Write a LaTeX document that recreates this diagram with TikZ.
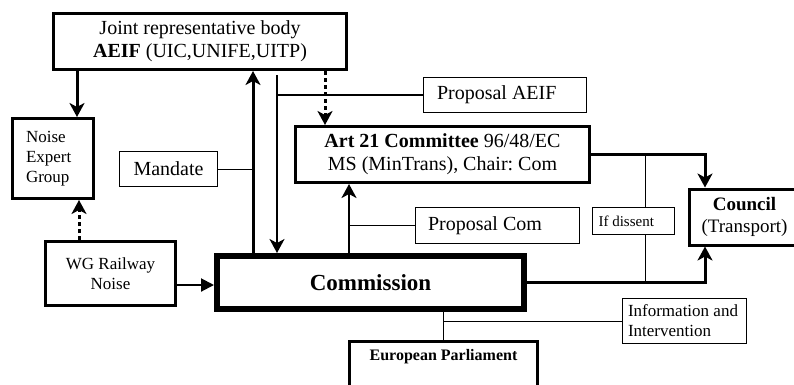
\documentclass[tikz,border=0pt]{standalone}
\usepackage{fontspec}
\setmainfont{Liberation Serif}
\usetikzlibrary{arrows.meta}
\frenchspacing

\begin{document}
\begin{tikzpicture}[x=1pt,y=-1pt]

  \tikzstyle{box}=[draw,rectangle,line width=3pt,inner sep=2pt,align=center,font=\fontsize{20}{23}\selectfont]
  \tikzstyle{bigbox}=[box,line width=6pt,font=\bfseries\fontsize{23}{26}\selectfont]
  \tikzstyle{labbox}=[draw,rectangle,line width=1pt,inner sep=2pt,align=center,font=\fontsize{20}{23}\selectfont]
  \tikzstyle{smallfont}=[font=\fontsize{17}{20}\selectfont]

  \tikzstyle{pointer}=[draw,-{Stealth[length=14pt,width=15pt,inset=4pt]},line width=3pt]
  \tikzstyle{thinptr}=[pointer,line width=2pt]
  \tikzstyle{dotptr}=[pointer,dash pattern=on 4pt off 3pt]
  \tikzstyle{link}=[draw,line width=1pt]

  \useasboundingbox (0,0) rectangle (794,384);

  % nodes
  \node[box,minimum width=293pt,minimum height=56pt] (aeif) at (200,41.5) {Joint representative body\\\textbf{AEIF} (UIC,UNIFE,UITP)};
  \node[box,smallfont,align=flush left,text width=54pt,minimum width=81pt,minimum height=80pt] (neg) at (53,158.5) {Noise\\Expert\\Group};
  \node[labbox,minimum width=98pt,minimum height=35pt] (mandate) at (168.5,169) {Mandate};
  \node[box,minimum width=294pt,minimum height=56pt] (art) at (442.5,154.5) {\textbf{Art 21 Committee} 96/48/EC\\MS (MinTrans), Chair: Com};
  \node[labbox,align=flush left,text width=136pt,minimum width=163pt,minimum height=35pt] (propaeif) at (505,95) {Proposal AEIF};
  \node[labbox,align=flush left,text width=139pt,minimum width=164pt,minimum height=36pt] (propcom) at (497.5,225.5) {Proposal Com};
  \node[labbox,align=flush left,text width=70pt,font=\fontsize{15}{18}\selectfont,minimum width=82pt,minimum height=27pt] (dissent) at (633.5,221) {If dissent};
  \node[box,font=\fontsize{19}{22}\selectfont,minimum width=111pt,minimum height=56pt] (council) at (744.5,217) {\textbf{Council}\\(Transport)};
  \node[bigbox,minimum width=307pt,minimum height=53pt] (com) at (370.5,282.5) {Commission};
  \node[box,smallfont,minimum width=130pt,minimum height=64pt] (wg) at (110.5,273.5) {WG Railway\\Noise};
  \node[box,font=\bfseries\fontsize{16}{19}\selectfont,anchor=north,minimum width=188pt,inner ysep=8pt,text depth=30pt] (ep) at (443.5,340) {European Parliament};
  \node[labbox,smallfont,align=flush left,text width=113pt,minimum width=124pt,minimum height=45pt] (info) at (684.5,321) {Information and\\Intervention};

  % joints
  \coordinate (negx) at (77,0);
  \coordinate (upx) at (253,0);
  \coordinate (downtop) at (277,75);
  \coordinate (dotx) at (325,0);
  \coordinate (artx) at (349,0);
  \coordinate (councx) at (705,0);
  \coordinate (dissx) at (645,0);
  \coordinate (wgx) at (79,0);
  \coordinate (wgy) at (0,285);

  % pointers
  \draw[pointer] (aeif.south -| negx) -- (neg.north -| negx);
  \draw[pointer] (com.north -| upx)   -- (aeif.south -| upx);
  \draw[link]    (mandate.east)       -- (mandate.east -| upx);
  \draw[thinptr] (downtop)            -- (com.north -| downtop);
  \draw[link,line width=1.3pt] (propaeif.west -| downtop) -- (propaeif.west);
  \draw[dotptr]  (aeif.south -| dotx) -- (art.north -| dotx);
  \draw[pointer,line width=2.5pt] (com.north -| artx) -- (art.south -| artx);
  \draw[link]    (propcom.west -| artx) -- (propcom.west);
  \draw[pointer] (art.east) -| (council.north -| councx);
  \draw[pointer] (com.east) -| (council.south -| councx);
  \draw[link]    (art.east -| dissx)  -- (dissent.north -| dissx);
  \draw[link]    (dissent.south -| dissx) -- (com.east -| dissx);
  \draw[pointer,line width=2pt,-{Triangle[length=13pt,width=13pt]}] (wg.east |- wgy) -- (com.west |- wgy);
  \draw[dotptr]  (wg.north -| wgx)    -- (neg.south -| wgx);
  \draw[link]    (com.south -| ep.north) -- (ep.north);
  \draw[link]    (info.west -| ep.north) -- (info.west);

\end{tikzpicture}
\end{document}
